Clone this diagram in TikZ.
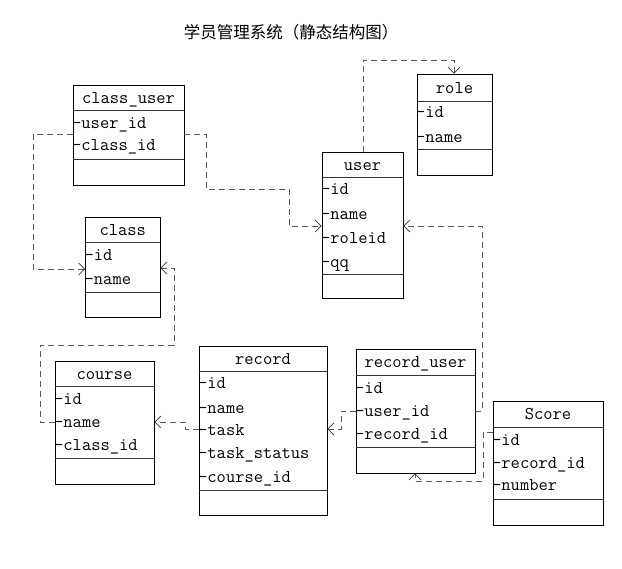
\documentclass[tikz,border=0pt]{standalone}
\usepackage{fontspec}
\newfontfamily\cjk{Noto Sans CJK SC}
\usetikzlibrary{arrows.meta}
\tikzset{
  ebox/.style={draw=black, line width=0.9pt, inner sep=0pt, fill=none},
  sepline/.style={draw=black!80, line width=0.9pt},
  etitle/.style={inner sep=0pt, text height=14pt, text depth=2pt, font=\ttfamily\fontsize{18}{20}\selectfont},
  attr/.style={anchor=west, inner sep=0pt, text height=14pt, text depth=2pt, font=\ttfamily\fontsize{18}{20}\selectfont},
  rel/.style={draw=black!65, line width=0.9pt, dash pattern=on 6pt off 4pt,
    -{Straight Barb[length=6pt,width=12pt,line width=0.7pt,black!80]}},
}
\newcommand{\ent}[9]{%
  \node[ebox, minimum width={(#4-#2)*1pt}, minimum height={(#5-#3)*1pt}] (#1) at ({(#2+#4)/2},{(#3+#5)/2}) {};
  \draw[sepline] (#2,#6) -- (#4,#6);
  \draw[sepline] (#2,#7) -- (#4,#7);
  \node[etitle] (#1-t) at ({(#2+#4)/2},{(#3+#6)/2}) {#8};
  \foreach \yy/\tt [count=\i] in {#9} {\node[attr] (#1-a\i) at (#2-1,\yy) {-\tt};}
}
\begin{document}
\begin{tikzpicture}[x=1pt,y=-1pt]
\useasboundingbox (0,0) rectangle (622,569);
\node[inner sep=0pt, font=\cjk\fontsize{16.5}{18}\selectfont] (title) at (291,32) {学员管理系统（静态结构图）};

\ent{cu}{73}{85}{184}{185}{110.5}{159}{class\_user}{122.5/user\_id,145/class\_id}
\ent{role}{417}{74}{492}{175}{101}{149}{role}{112/id,137/name}
\ent{user}{322}{152}{403}{298}{177}{274}{user}{189/id,214/name,238/roleid,262/qq}
\ent{cls}{85.5}{217}{160}{317}{242.5}{292}{class}{255/id,279/name}
\ent{course}{55}{361}{154}{484}{386.5}{458}{course}{399/id,422/name,445/class\_id}
\ent{rec}{199}{346}{327}{515}{371.5}{490}{record}{383/id,407.5/name,430/task,453/task\_status,476.5/course\_id}
\ent{ru}{356}{349}{475}{473}{375}{447}{record\_user}{388/id,411/user\_id,434/record\_id}
\ent{score}{493}{401}{603}{525}{427}{499}{Score}{440/id,462.5/record\_id,485/number}

% connectors
\draw[rel] (cu.west |- 0,134) -- (33,134) -- (33,269) -- (cls.west |- 0,269);
\draw[rel] (cu.east |- 0,134) -- (206,134) -- (206,189) -- (289,189) -- (289,226) -- (user.west |- 0,226);
\draw[rel] (user.north -| 363,0) -- (363,60) -- (454,60) -- (role.north -| 454,0);
\draw[rel] (ru.east |- 0,411) -- (482,411) -- (482,226) -- (user.east |- 0,226);
\draw[rel] (course.west |- 0,422) -- (40,422) -- (40,345) -- (174,345) -- (174,268) -- (cls.east |- 0,268);
\draw[rel] (rec.west |- 0,429) -- (185,429) -- (185,422) -- (course.east |- 0,422);
\draw[rel] (ru.west |- 0,411) -- (341,411) -- (341,429) -- (rec.east |- 0,429);
\draw[rel] (score.west |- 0,432) -- (483,432) -- (483,481) -- (415,481) -- (ru.south -| 415,0);
\end{tikzpicture}
\end{document}
